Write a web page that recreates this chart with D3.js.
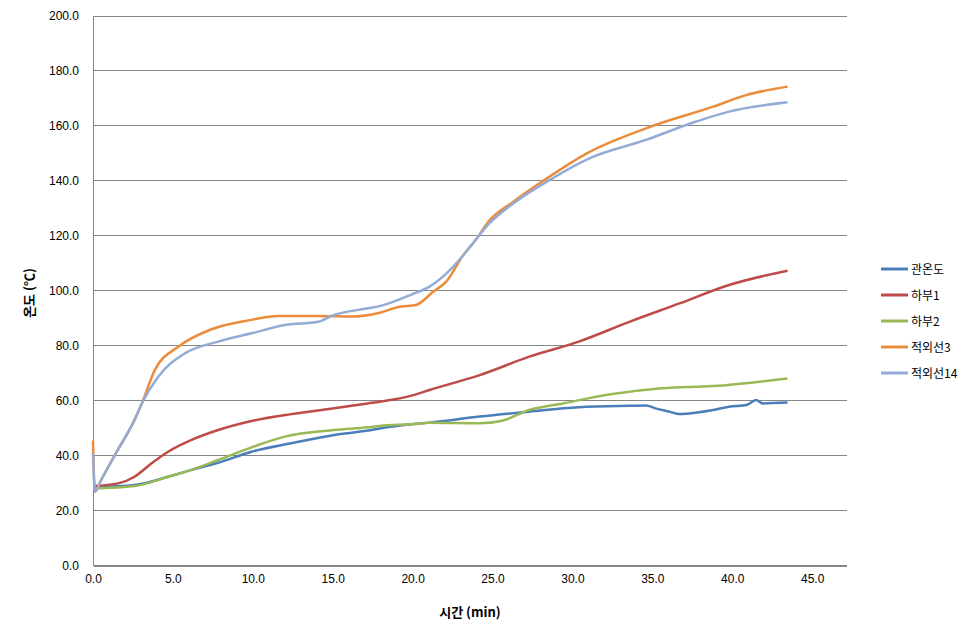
<!DOCTYPE html>
<html><head><meta charset="utf-8">
<script src="https://cdn.jsdelivr.net/npm/d3@7"></script>
<style>body{margin:0;background:#fff;} svg{display:block;}</style>
</head><body>
<svg id="c" width="980" height="642"></svg>
<script>
const seriesNames = ["관온도","하부1","하부2","적외선3","적외선14"];
const seriesColors = ["#4A7EBB","#BE4B48","#98B954","#EB8C3C","#93ABD6"];
const xTicks = [0,5,10,15,20,25,30,35,40,45];
const yTicks = [0,20,40,60,80,100,120,140,160,180,200];

const t_blue = [0,2.6,4.7,6.17,7.83,9.92,12.4,15.1,17.2,17.94,20.1,21.06,24.2,27.3,30.4,33.56,34.6,35.2,36.06,36.7,37.7,38.8,39.8,40.9,41.5,41.9,43.46];
const v_blue = [28.5,29.3,32.3,34.8,37.4,41.4,44.5,47.5,49.1,49.9,51.5,52.0,54.2,56.0,57.6,58.1,58.2,57.2,56.0,55.1,55.6,56.6,57.8,58.4,60.2,59.0,59.3];

const t_red = [0,1.58,2.6,3.67,4.7,6.17,7.83,9.92,12.4,15.1,17.2,17.94,20.1,21.06,24.2,27.3,30.4,33.56,36.7,39.8,43.46];
const v_red = [28.9,29.9,32.3,37.2,41.4,45.7,49.3,52.6,55.1,57.2,59.0,59.6,62.1,63.9,69.3,76.0,81.5,88.7,95.4,102.1,107.3];

const t_green = [0,2.6,4.7,6.17,7.83,9.92,12.0,15.1,17.2,17.94,20.1,21.06,24.2,25.6,27.3,29.4,32.5,35.6,38.8,43.46];
const v_green = [28.0,28.9,32.3,34.8,38.4,43.0,46.9,49.3,50.3,50.8,51.5,52.0,51.8,52.7,56.6,59.0,62.4,64.5,65.3,68.1];

const t_orange = [0,0.12,0.5,1.5,2.6,3.04,3.875,5.33,7.42,9.9,11.6,14.1,16.2,17.94,19.19,20.2,21.3,22.1,23.1,24.1,24.7,26.3,28.4,30.9,34.6,38.8,40.86,43.46];
const v_orange = [45.5,26.8,31.0,41.5,53.0,58.8,71.2,79.6,86.0,89.4,90.8,90.8,90.6,92.0,94.2,94.8,99.7,103.3,112.4,119.7,124.8,132.4,140.9,150.0,159.1,167.0,171.2,174.3];

const t_lblue = [0,0.12,0.5,1.5,2.6,3.04,4.08,5.75,7.83,9.92,12.0,14.1,14.9,17.2,17.94,20.0,21.06,22.3,23.35,24.8,26.3,28.4,31.06,34.6,37.7,39.8,43.46];
const v_lblue = [41.0,26.8,31.0,41.5,53.0,58.8,68.7,77.2,81.5,84.5,87.5,88.7,90.8,93.6,94.4,98.8,101.5,107.3,114.2,124.5,131.8,139.7,148.2,154.9,161.5,165.2,168.6];

const seriesT = [t_blue,t_red,t_green,t_orange,t_lblue];
const seriesV = [v_blue,v_red,v_green,v_orange,v_lblue];

const svg = d3.select("#c");
const L=93, R=846.5, T=16, B=565.5;
const x = d3.scaleLinear().domain([0,47.15]).range([L,R]);
const y = d3.scaleLinear().domain([0,200]).range([B,T]);
const font = "'Liberation Sans', Arial, sans-serif";

svg.append("g").selectAll("line").data(yTicks).join("line")
  .attr("x1",L).attr("x2",R).attr("y1",d=>y(d)).attr("y2",d=>y(d))
  .attr("stroke","#868686").attr("stroke-width",1).attr("shape-rendering","crispEdges");

const ya = svg.append("g").attr("transform",`translate(${L},0)`)
  .call(d3.axisLeft(y).tickValues(yTicks).tickFormat(d3.format(".1f")).tickSize(0).tickPadding(14));
ya.select(".domain").attr("stroke","#868686").attr("shape-rendering","crispEdges");
ya.selectAll("text").attr("font-family",font).attr("font-size",12).attr("fill","#000");

const xa = svg.append("g").attr("transform",`translate(0,${B})`)
  .call(d3.axisBottom(x).tickValues(xTicks).tickFormat(d3.format(".1f")).tickSize(0).tickPadding(9));
xa.select(".domain").attr("stroke","#868686").attr("shape-rendering","crispEdges");
xa.selectAll("text").attr("font-family",font).attr("font-size",12).attr("fill","#000");

const line = d3.line().x(d=>x(d[0])).y(d=>y(d[1])).curve(d3.curveMonotoneX);
seriesNames.forEach((n,i)=>{
  const pts = seriesT[i].map((t,j)=>[t,seriesV[i][j]]);
  svg.append("path").datum(pts).attr("d",line)
    .attr("fill","none").attr("stroke",seriesColors[i]).attr("stroke-width",2.5)
    .attr("stroke-linejoin","round");
});

svg.append("text").attr("x",470).attr("y",617).attr("text-anchor","middle")
  .attr("font-family","'Noto Sans CJK KR', sans-serif").attr("font-weight","bold").attr("font-size",13)
  .text("시간 (min)");
svg.append("text").attr("transform","translate(34,293) rotate(-90)").attr("text-anchor","middle")
  .attr("font-family","'Noto Sans CJK KR', sans-serif").attr("font-weight","bold").attr("font-size",13)
  .text("온도 (℃)");

const lg = svg.append("g");
seriesNames.forEach((n,i)=>{
  const yy = 269 + i*26;
  lg.append("line").attr("x1",881).attr("x2",908).attr("y1",yy).attr("y2",yy)
    .attr("stroke",seriesColors[i]).attr("stroke-width",3);
  lg.append("text").attr("x",911).attr("y",yy+4.5)
    .attr("font-family","'Noto Sans CJK KR', sans-serif").attr("font-size",12).attr("fill","#000")
    .text(n);
});
</script>
</body></html>
